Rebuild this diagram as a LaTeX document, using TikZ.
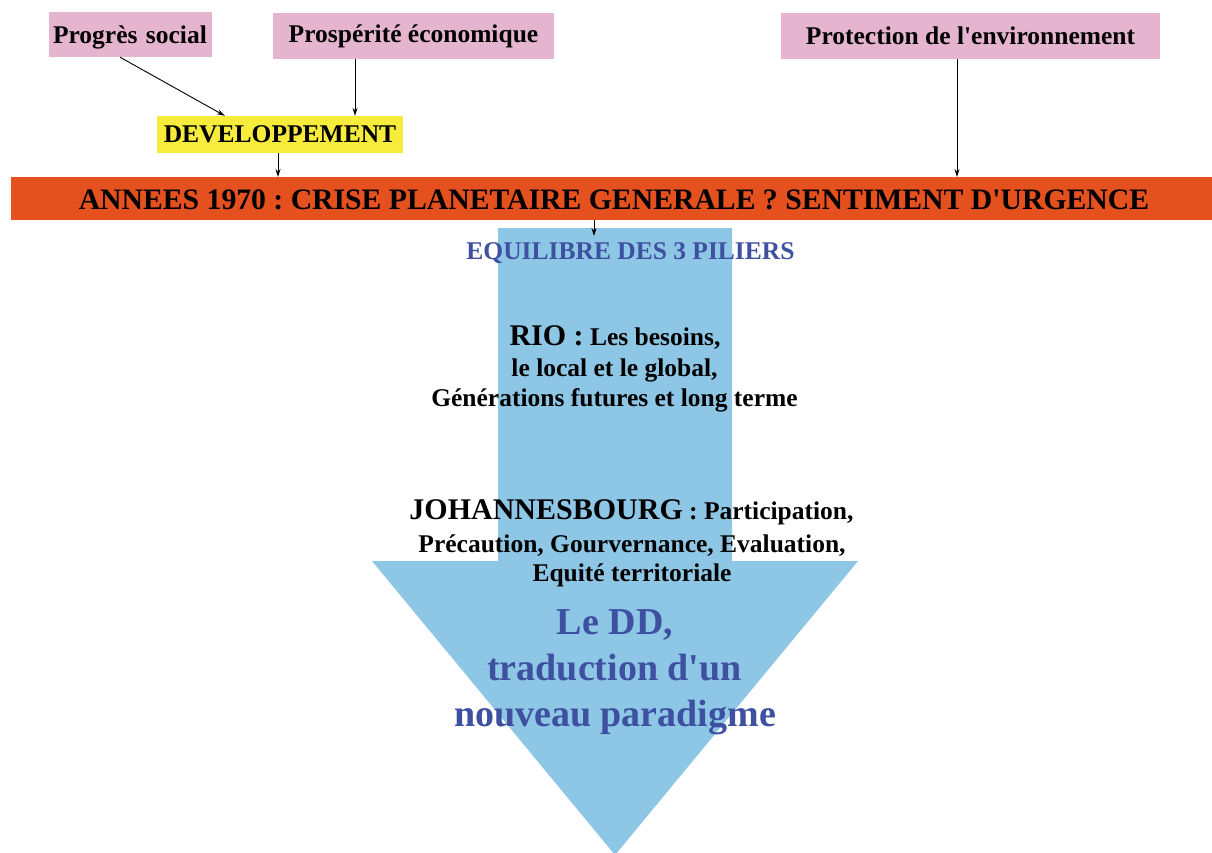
\documentclass[tikz,border=0pt]{standalone}
\usepackage{fontspec}
\setmainfont{Liberation Serif}[Ligatures=TeXOff]
\usetikzlibrary{calc,arrows.meta}
\definecolor{pinkbox}{RGB}{229,180,206}
\definecolor{yellowbox}{RGB}{247,236,60}
\definecolor{orangebar}{RGB}{228,80,30}
\definecolor{arrowblue}{RGB}{142,198,230}
\definecolor{textblue}{RGB}{62,80,160}
\frenchspacing
\begin{document}
\begin{tikzpicture}[x=1pt,y=-1pt,
  fs/.style={font=\bfseries\fontsize{25.5}{30}\selectfont},
  pinkb/.style={fs, fill=pinkbox, inner sep=0pt, text=black},
  yellowb/.style={fs, fill=yellowbox, inner sep=0pt, text=black},
  linetxt/.style={fs, anchor=base, inner sep=0pt, text=black},
  bluetxt/.style={font=\bfseries\fontsize{38}{46}\selectfont, anchor=base, inner sep=0pt, text=textblue},
  link/.style={draw=black, line width=0.9pt, -{Stealth[length=8pt,width=5pt]}}]
\fill[white] (0,0) rectangle (1212,852);
\useasboundingbox (0,0) rectangle (1212,852);

% big arrow
\fill[arrowblue] (498,228) -- (732,228) -- (732,561) -- (858,561) -- (615,855) -- (372,561) -- (498,561) -- cycle;

% top boxes
\node[pinkb, minimum width=163pt, minimum height=45pt, text depth=4pt, text height=22pt, align=left, text width=155pt] (ps) at (130.5,34.5) {Progrès social};
\node[pinkb, minimum width=281pt, minimum height=46pt] (pe) at (413.5,36) {Prospérité économique};
\node[pinkb, minimum width=379pt, minimum height=46pt] (pr) at (970.5,36) {Protection de l'environnement};
\node[yellowb, minimum width=246pt, minimum height=37pt] (dev) at (280,134.5) {DEVELOPPEMENT};

% orange bar
\fill[orangebar] (11,177) rectangle (1212,220);
\node[font=\bfseries\fontsize{29.7}{34}\selectfont, anchor=base, inner sep=0pt] (bar) at (614,209) {ANNEES 1970 : CRISE PLANETAIRE GENERALE ? SENTIMENT D'URGENCE};
\coordinate (bartop) at (0,177);
\coordinate (barbot) at (0,220);

% text inside arrow
\node[fs, anchor=base, inner sep=0pt, text=textblue] (eq) at (630.5,259) {EQUILIBRE DES 3 PILIERS};
\coordinate (eqtop) at (594,236);

\node[linetxt] (rio1) at (615,345) {{\fontsize{30}{36}\selectfont RIO :} Les besoins,};
\node[linetxt] (rio2) at (614.5,376) {le local et le global,};
\node[linetxt] (rio3) at (614.5,406) {Générations futures et long terme};

\node[linetxt] (jo1) at (631.5,519) {{\fontsize{30}{36}\selectfont JOHANNESBOURG} : Participation,};
\node[linetxt] (jo2) at (632,552) {Précaution, Gourvernance, Evaluation,};
\node[linetxt] (jo3) at (632,581) {Equité territoriale};

\node[bluetxt] (dd1) at (615,634) {Le DD,};
\node[bluetxt] (dd2) at (614.5,680) {traduction d'un};
\node[bluetxt] (dd3) at (615,726) {nouveau paradigme};

% connectors
\draw[link] ($(ps.south west)!0.436!(ps.south east)$) -- ($(dev.north west)!0.276!(dev.north east)$);
\draw[link] (pe.south -| 355,0) -- (dev.north -| 355,0);
\draw[link] (dev.south -| 278,0) -- (bartop -| 278,0);
\draw[link] (pr.south -| 957,0) -- (bartop -| 957,0);
\draw[link] (barbot -| eqtop) -- (eqtop);
\end{tikzpicture}
\end{document}
